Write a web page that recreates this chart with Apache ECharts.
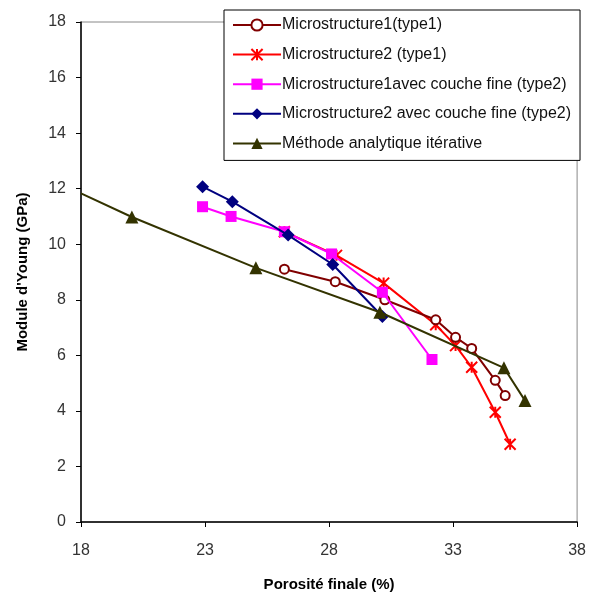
<!DOCTYPE html>
<html>
<head>
<meta charset="utf-8">
<script src="https://cdn.jsdelivr.net/npm/echarts@6/dist/echarts.min.js"></script>
<style>html,body{margin:0;padding:0;background:#fff;}#c{width:589px;height:599px;}</style>
</head>
<body>
<div id="c"></div>
<script>
var seriesNames = [
  'Microstructure1(type1)',
  'Microstructure2 (type1)',
  'Microstructure1avec couche fine (type2)',
  'Microstructure2 avec couche fine (type2)',
  'Méthode analytique itérative'
];
var xTicks = [18, 23, 28, 33, 38];
var yTicks = [0, 2, 4, 6, 8, 10, 12, 14, 16, 18];

var m1x = [26.2, 28.25, 30.25, 32.3, 33.1, 33.75, 34.7, 35.1];
var m1y = [9.1, 8.65, 8.0, 7.28, 6.65, 6.25, 5.1, 4.55];

var m2x = [26.2, 28.3, 30.2, 32.3, 33.1, 33.75, 34.7, 35.3];
var m2y = [10.45, 9.6, 8.6, 7.1, 6.35, 5.57, 3.95, 2.8];

var m3x = [22.9, 24.05, 26.2, 28.1, 30.15, 32.15];
var m3y = [11.35, 11.0, 10.45, 9.65, 8.27, 5.85];

var m4x = [22.9, 24.1, 26.35, 28.15, 30.15];
var m4y = [12.07, 11.53, 10.33, 9.27, 7.4];

var m5x = [18, 20.05, 25.05, 30.05, 35.05, 35.9];
var m5y = [11.83, 10.98, 9.15, 7.55, 5.55, 4.37];
var m5hidden = [true, false, false, false, false, false];

function pairs(xs, ys) { return xs.map(function (x, i) { return [x, ys[i]]; }); }

var chart = echarts.init(document.getElementById('c'), null, {renderer: 'canvas'});
var font = 'Liberation Sans, Arial, sans-serif';
chart.setOption({
  animation: false,
  backgroundColor: '#fff',
  grid: {left: 81, right: 11, top: 22, bottom: 77, show: true, borderColor: '#888', borderWidth: 1, backgroundColor: 'transparent'},
  legend: {
    orient: 'vertical', left: 224, top: 10,
    width: 360, height: 150,
    backgroundColor: '#fff',
    borderColor: '#000', borderWidth: 1, borderRadius: 0,
    padding: [7, 9, 9, 8],
    itemWidth: 48, itemHeight: 14, itemGap: 13.6,
    textStyle: {fontFamily: font, fontSize: 16, lineHeight: 16, color: '#111', padding: [0, 0, 0, -4]},
    data: seriesNames
  },
  xAxis: {
    type: 'value', min: 18, max: 38,
    name: 'Porosité finale (%)', nameLocation: 'middle', nameGap: 55,
    nameTextStyle: {fontFamily: font, fontSize: 15, fontWeight: 'bold', color: '#000'},
    axisLine: {show: true, onZero: false, lineStyle: {color: '#000', width: 1.5}},
    axisTick: {show: true, customValues: xTicks, length: 5, lineStyle: {color: '#000'}},
    axisLabel: {customValues: xTicks, fontFamily: font, fontSize: 16, color: '#333', margin: 21},
    splitLine: {show: false}
  },
  yAxis: {
    type: 'value', min: 0, max: 18, interval: 2,
    name: "Module d'Young (GPa)", nameLocation: 'middle', nameGap: 51, nameRotate: 90,
    nameTextStyle: {fontFamily: font, fontSize: 15, fontWeight: 'bold', color: '#000'},
    axisLine: {show: true, onZero: false, lineStyle: {color: '#000', width: 1.5}},
    axisTick: {show: true, length: 5, lineStyle: {color: '#000'}},
    axisLabel: {fontFamily: font, fontSize: 16, color: '#333', margin: 15},
    splitLine: {show: false}
  },
  series: [
    {
      name: seriesNames[0], type: 'line', data: pairs(m1x, m1y),
      symbol: 'emptyCircle', symbolSize: 9,
      lineStyle: {color: '#800000', width: 2},
      itemStyle: {color: '#800000', borderColor: '#800000', borderWidth: 1.5},
      z: 3
    },
    {
      name: seriesNames[1], type: 'line', data: pairs(m2x, m2y),
      symbol: 'path://M0,0L10,10M10,0L0,10M5,0L5,10', symbolSize: 11, symbolKeepAspect: true,
      lineStyle: {color: '#ff0000', width: 2},
      itemStyle: {color: '#ff0000', borderColor: '#ff0000', borderWidth: 2},
      z: 2
    },
    {
      name: seriesNames[2], type: 'line', data: pairs(m3x, m3y),
      symbol: 'rect', symbolSize: 11,
      lineStyle: {color: '#ff00ff', width: 2},
      itemStyle: {color: '#ff00ff'},
      z: 4
    },
    {
      name: seriesNames[3], type: 'line', data: pairs(m4x, m4y),
      symbol: 'diamond', symbolSize: 13,
      lineStyle: {color: '#000080', width: 2},
      itemStyle: {color: '#000080'},
      z: 5
    },
    {
      name: seriesNames[4], type: 'line',
      data: m5x.map(function (x, i) { return m5hidden[i] ? {value: [x, m5y[i]], symbolSize: 0} : [x, m5y[i]]; }),
      symbol: 'triangle', symbolSize: 13,
      lineStyle: {color: '#333300', width: 2},
      itemStyle: {color: '#333300'},
      z: 6
    }
  ]
});
</script>
</body>
</html>
